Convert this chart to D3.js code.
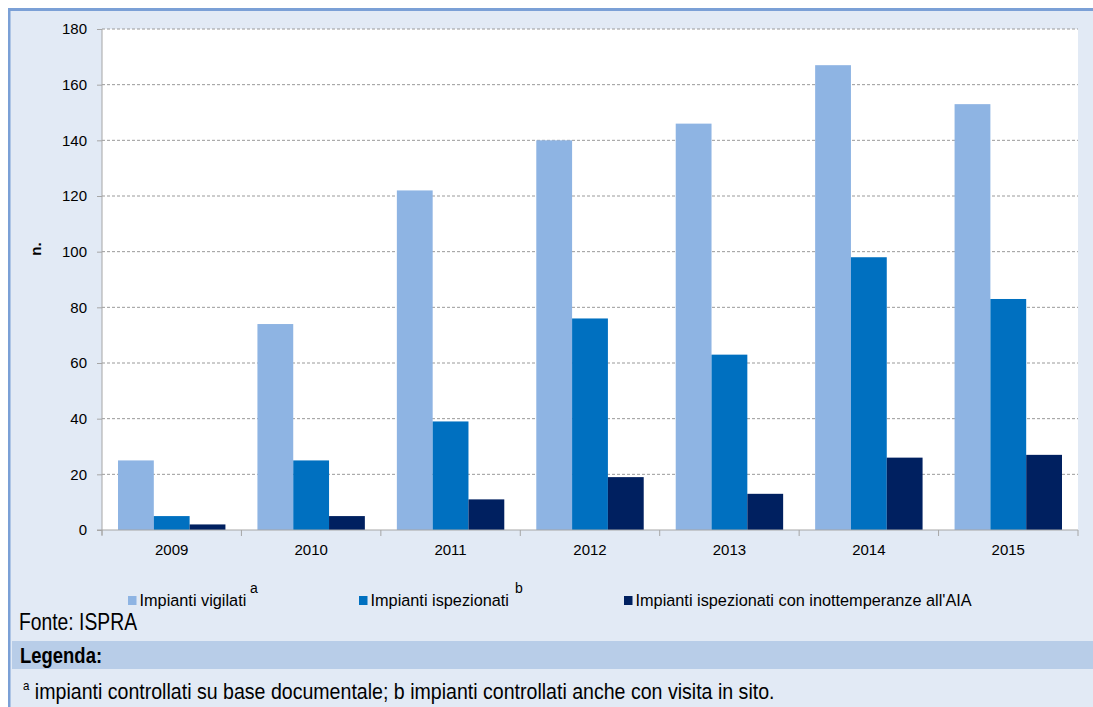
<!DOCTYPE html>
<html>
<head>
<meta charset="utf-8">
<script src="https://cdn.jsdelivr.net/npm/d3@7"></script>
<style>
  body { margin: 0; background: #fff; }
  svg { display: block; font-family: "Liberation Sans", Arial, sans-serif; }
</style>
</head>
<body>
<div id="chart"></div>
<script>
// Data
var years = ["2009", "2010", "2011", "2012", "2013", "2014", "2015"];
var vigilati = [25, 74, 122, 140, 146, 167, 153];
var ispezionati = [5, 25, 39, 76, 63, 98, 83];
var inottemperanze = [2, 5, 11, 19, 13, 26, 27];
var seriesNames = ["Impianti vigilati", "Impianti ispezionati", "Impianti ispezionati con inottemperanze all'AIA"];
var seriesSup = ["a", "b", ""];
var colors = ["#8eb4e3", "#0070c0", "#002060"];
var yTicks = [0, 20, 40, 60, 80, 100, 120, 140, 160, 180];

var svgWidth = 1093, svgHeight = 707;
var margin = { top: 29, right: 15, bottom: 177, left: 102 };
var width = 1078 - margin.left;
var height = 530 - margin.top;
var narrow = 0.84; // horizontal squeeze, stands in for Arial Narrow

var svg = d3.select("#chart").append("svg")
  .attr("width", svgWidth)
  .attr("height", svgHeight);

// panel background + border
svg.append("rect").attr("x", 0).attr("y", 0).attr("width", svgWidth).attr("height", svgHeight).attr("fill", "#fff");
svg.append("rect").attr("x", 9).attr("y", 9).attr("width", svgWidth - 9).attr("height", svgHeight - 9).attr("fill", "#e2eaf5");
svg.append("rect").attr("x", 8).attr("y", 8).attr("width", svgWidth - 8).attr("height", 3).attr("fill", "#7ba0d6");
svg.append("rect").attr("x", 8).attr("y", 8).attr("width", 2.5).attr("height", svgHeight - 8).attr("fill", "#7ba0d6");

// Legenda band
svg.append("rect").attr("x", 12).attr("y", 641).attr("width", svgWidth - 12).attr("height", 28).attr("fill", "#b8cde8");

var chartGroup = svg.append("g")
  .attr("transform", `translate(${margin.left}, ${margin.top})`);

chartGroup.append("rect").attr("width", width).attr("height", height).attr("fill", "#fff");

var x0 = d3.scaleBand().domain(years).range([0, width]).paddingInner(0).paddingOuter(0);
var groupPad = 16;
var x1 = d3.scaleBand().domain([0, 1, 2]).range([groupPad, x0.bandwidth() - groupPad]).padding(0);
var y = d3.scaleLinear().domain([0, 180]).range([height, 0]);

// gridlines
chartGroup.selectAll(".grid").data(yTicks.slice(1)).enter().append("line")
  .attr("x1", 0).attr("x2", width)
  .attr("y1", d => y(d)).attr("y2", d => y(d))
  .attr("stroke", "#9a9a9a").attr("stroke-width", 1).attr("stroke-dasharray", "3,2");

// bars
var allSeries = [vigilati, ispezionati, inottemperanze];
var groups = chartGroup.selectAll(".year").data(years).enter().append("g")
  .attr("transform", d => `translate(${x0(d)},0)`);
groups.selectAll("rect").data((d, i) => allSeries.map((s, k) => ({ k: k, v: s[i] }))).enter().append("rect")
  .attr("x", d => x1(d.k))
  .attr("width", x1.bandwidth())
  .attr("y", d => y(d.v))
  .attr("height", d => height - y(d.v))
  .attr("fill", d => colors[d.k]);

// y axis
var yAxis = chartGroup.append("g").call(d3.axisLeft(y).tickValues(yTicks).tickSize(5).tickPadding(10));
yAxis.select(".domain").attr("stroke", "#a6a6a6").attr("d", `M0,${height + 5}V0`);
yAxis.selectAll(".tick line").attr("stroke", "#a6a6a6");
yAxis.selectAll("text").attr("font-size", 15).attr("font-family", "Liberation Sans, Arial, sans-serif").attr("fill", "#000");

// x axis
var xAxisG = chartGroup.append("g").attr("transform", `translate(0,${height})`);
xAxisG.append("line").attr("x1", -5).attr("x2", width).attr("stroke", "#a6a6a6");
xAxisG.selectAll(".xt").data(d3.range(years.length + 1)).enter().append("line")
  .attr("x1", d => d * x0.step()).attr("x2", d => d * x0.step())
  .attr("y1", 0).attr("y2", 6).attr("stroke", "#a6a6a6");
xAxisG.selectAll(".xl").data(years).enter().append("text")
  .attr("x", d => x0(d) + x0.bandwidth() / 2)
  .attr("y", 25)
  .attr("text-anchor", "middle")
  .attr("font-size", 15)
  .text(d => d);

// y axis title
svg.append("text")
  .attr("transform", "translate(41,249) rotate(-90)")
  .attr("text-anchor", "middle")
  .attr("font-size", 15)
  .attr("font-weight", "bold")
  .text("n.");

// legend
var legendX = [128, 359, 624];
var supX = [122, 156, 0];
var legend = svg.selectAll(".leg").data(seriesNames).enter().append("g")
  .attr("transform", (d, i) => `translate(${legendX[i]},606)`);
legend.append("rect").attr("x", 0).attr("y", -10).attr("width", 8.5).attr("height", 9)
  .attr("fill", (d, i) => colors[i]);
legend.append("text").attr("x", 11.5).attr("y", 0).attr("font-size", 16.3).text(d => d);
legend.append("text")
  .attr("x", (d, i) => supX[i])
  .attr("y", -13).attr("font-size", 14)
  .text((d, i) => seriesSup[i]);

// source
svg.append("text").attr("transform", `translate(19,630) scale(${narrow},1)`)
  .attr("font-size", 23).text("Fonte: ISPRA");

// Legenda
svg.append("text").attr("transform", `translate(20,663) scale(${narrow},1)`)
  .attr("font-size", 22).attr("font-weight", "bold").text("Legenda:");

var note = svg.append("text").attr("transform", "translate(23,699) scale(0.89,1)").attr("font-size", 22);
note.append("tspan").attr("font-size", 13).attr("dy", -9).text("a");
note.append("tspan").attr("dy", 9).text(" impianti controllati su base documentale; b impianti controllati anche con visita in sito.");
</script>
</body>
</html>
